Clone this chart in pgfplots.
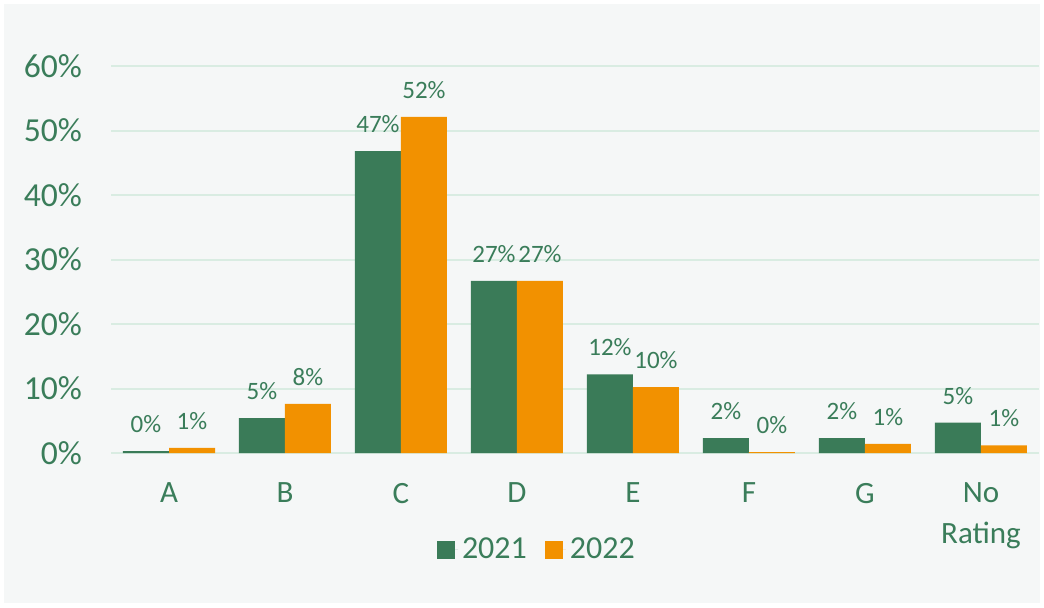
\documentclass[border=0pt]{standalone}
\usepackage{pgfplots}
\pgfplotsset{compat=1.18}
\usepackage{fontspec}
\setmainfont{Carlito}
\definecolor{tg}{HTML}{3A7D5A}
\definecolor{bgreen}{HTML}{3A7B58}
\definecolor{borange}{HTML}{F29100}
\definecolor{gl}{HTML}{D9ECE2}
\definecolor{bk}{HTML}{F5F7F7}
\begin{document}
\begin{tikzpicture}[x=1pt,y=1pt]
\fill[white] (0,0) rectangle (522,303.5);
\fill[bk] (2,2) rectangle (520,301.5);
\useasboundingbox (0,0) rectangle (522,303.5);
\begin{axis}[
  at={(55.5pt,77pt)}, anchor=south west,
  scale only axis, width=464pt, height=193.5pt,
  ybar=0pt, bar width=23pt,
  xmin=-0.5, xmax=7.5, ymin=0, ymax=60,
  xtick={0,...,7},
  xticklabels={A,B,C,D,E,F,G,No\\Rating},
  ytick={0,10,...,60},
  yticklabel={\pgfmathprintnumber{\tick}\%},
  /pgf/number format/assume math mode=true,
  axis line style={draw=none},
  major tick length=0pt,
  ymajorgrids, major grid style={gl, line width=1pt},
  yticklabel style={font=\fontsize{16.8}{20}\selectfont, text=tg, xshift=-11pt},
  xticklabel style={font=\fontsize{15.5}{20.5}\selectfont, text=tg, align=center, yshift=-11.5pt},
  nodes near coords={\pgfmathprintnumber[fixed,precision=0]{\pgfplotspointmeta}\%},
  nodes near coords style={font=\fontsize{12.5}{15}\selectfont, text=tg, anchor=south, inner sep=3pt, yshift=6pt},
  legend style={at={(0.46,-0.25)}, anchor=center, draw=none, fill=none,
    legend columns=2, font=\fontsize{16}{18}\selectfont, text=tg,
    /tikz/every even column/.append style={column sep=7pt}},
  legend image code/.code={\path (0pt,0pt) -- (10.5pt,0pt); \fill[#1] (0pt,-4.5pt) rectangle (9pt,4.5pt);},
  legend cell align=left,
]
\addplot[fill=bgreen, draw=none] coordinates {(0,0.3) (1,5.4) (2,46.8) (3,26.7) (4,12.2) (5,2.3) (6,2.3) (7,4.7)};
\addplot[fill=borange, draw=none] coordinates {(0,0.8) (1,7.6) (2,52.1) (3,26.7) (4,10.2) (5,0.15) (6,1.4) (7,1.2)};
\legend{2021,2022}
\end{axis}
\end{tikzpicture}
\end{document}
